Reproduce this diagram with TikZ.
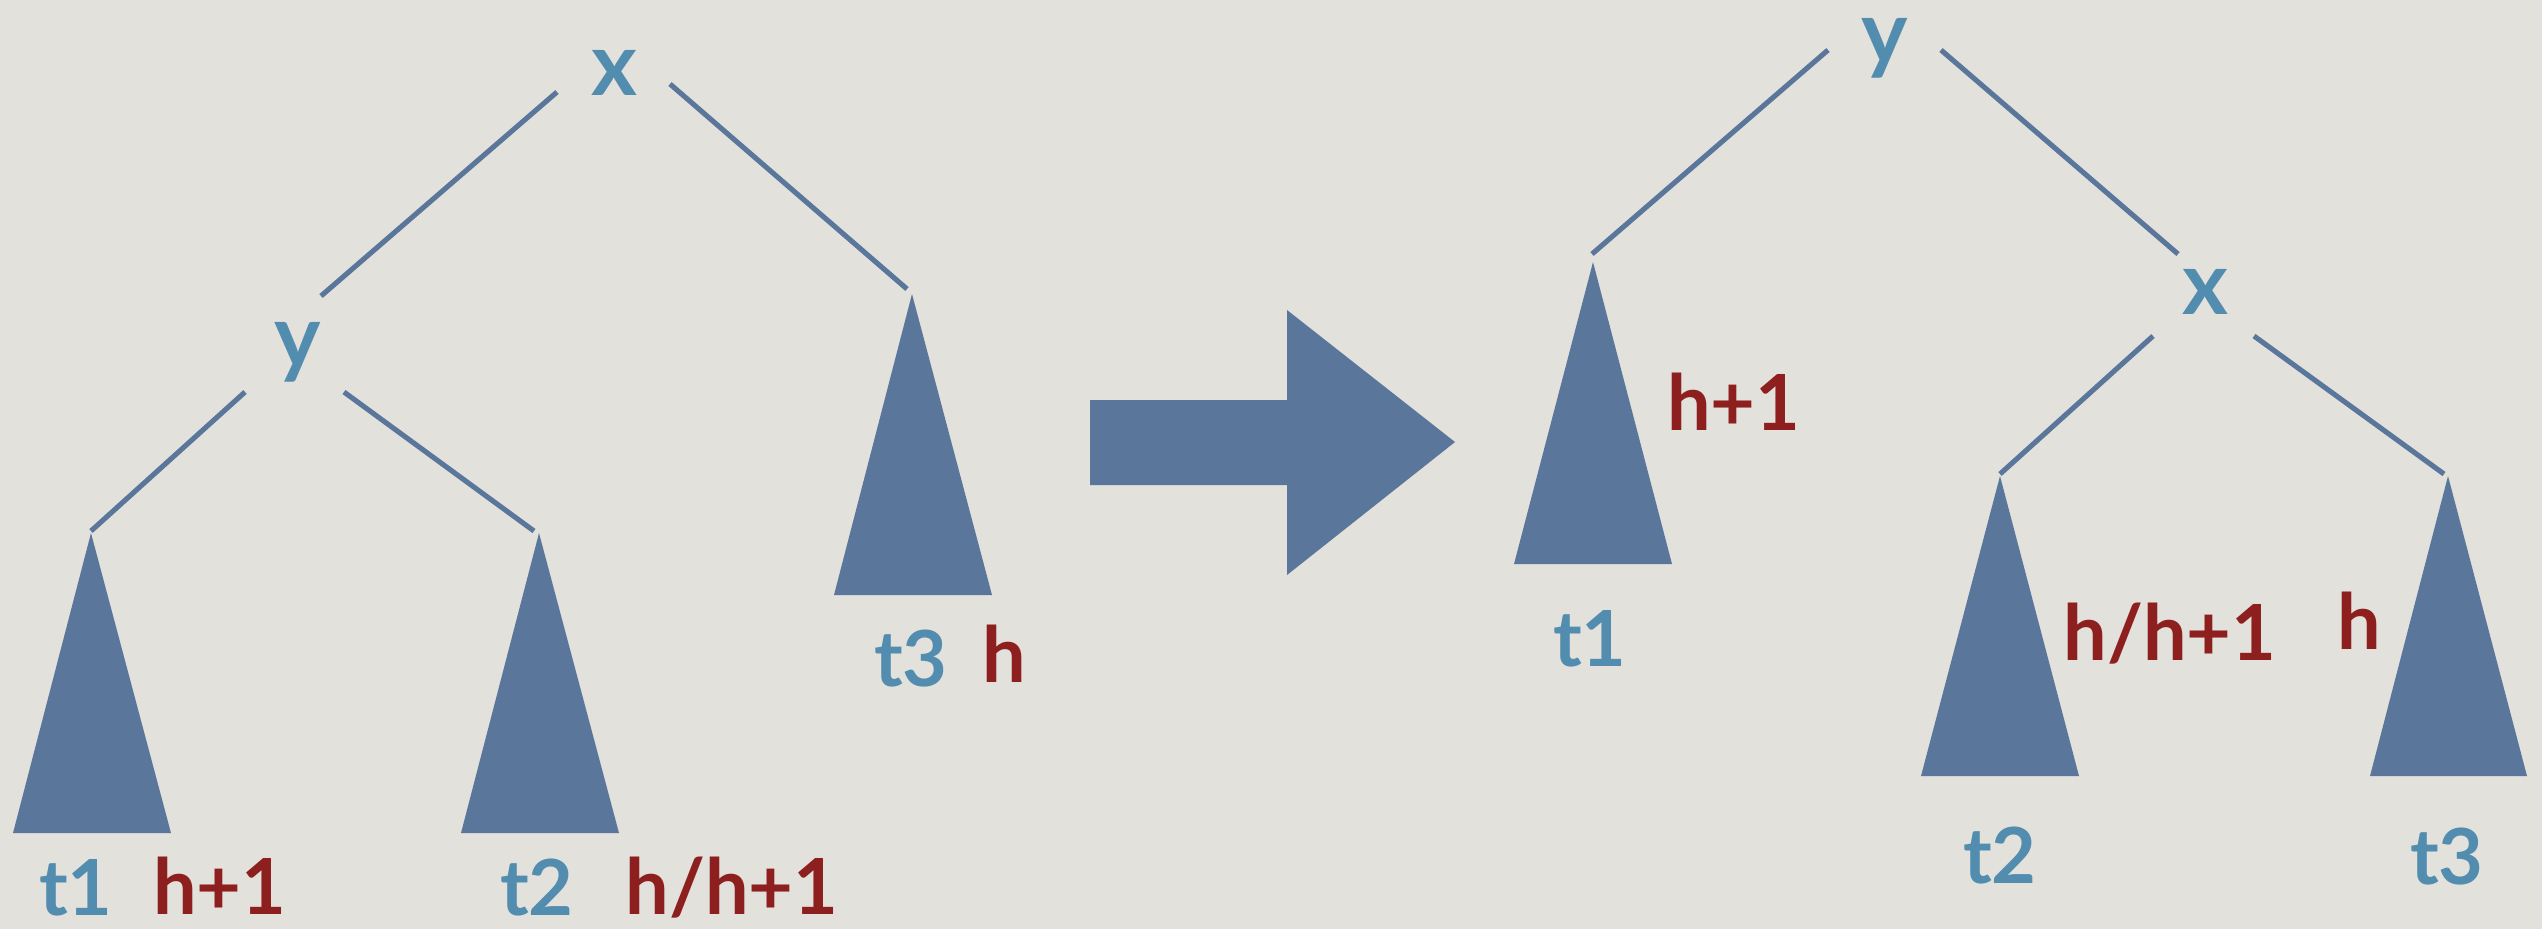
\documentclass[tikz,border=0pt]{standalone}
\usepackage{fontspec}
\setmainfont{Lato}
\definecolor{bgc}{HTML}{E2E1DC}
\definecolor{treec}{HTML}{5B769B}
\definecolor{labc}{HTML}{528CAF}
\definecolor{redc}{HTML}{8E1F1F}
\begin{document}
\begin{tikzpicture}[x=0.01cm,y=-0.01cm,
  edge/.style={draw=treec,line width=1.45pt},
  tri/.style={fill=treec},
  keyl/.style={text=labc,font=\fontsize{25}{25}\selectfont\bfseries,anchor=base,inner sep=0pt},
  tl/.style={text=labc,font=\fontsize{22}{22}\selectfont\bfseries,anchor=base,inner sep=0pt},
  hl/.style={text=redc,font=\fontsize{22}{22}\selectfont\bfseries,anchor=base,inner sep=0pt}]
\fill[bgc] (0,0) rectangle (2542,929);
\useasboundingbox (0,0) rectangle (2542,929);
% ---------- left tree ----------
\node[keyl] (Lx) at (614,95) {x};
\node[keyl] (Ly) at (298,367) {y};
\coordinate (Lxa) at (557,92);  \coordinate (Lxb) at (321,296);
\coordinate (Lxc) at (670,84);  \coordinate (Lxd) at (907,289);
\coordinate (Lya) at (245,392); \coordinate (Lyb) at (91,531);
\coordinate (Lyc) at (344,392); \coordinate (Lyd) at (534,531);
\draw[edge] (Lxa) -- (Lxb);
\draw[edge] (Lxc) -- (Lxd);
\draw[edge] (Lya) -- (Lyb);
\draw[edge] (Lyc) -- (Lyd);
\fill[tri] (91,533) -- (13,833) -- (171,833) -- cycle;
\fill[tri] (539,533) -- (461,833) -- (619,833) -- cycle;
\fill[tri] (912,294) -- (834,595) -- (992,595) -- cycle;
\node[tl] (Lt1) at (76,915) {t1};
\node[hl] (Lh1) at (220,914) {h+1};
\node[tl] (Lt2) at (537,915) {t2};
\node[hl] (Lh2) at (732,914) {h/h+1};
\node[tl] (Lt3) at (911,686) {t3};
\node[hl] (Lh3) at (1004,682) {h};
% ---------- arrow ----------
\fill[tri] (1090,400) -- (1287,400) -- (1287,310) -- (1455,442) -- (1287,575) -- (1287,485) -- (1090,485) -- cycle;
% ---------- right tree ----------
\node[keyl] (Ry) at (1885,63) {y};
\node[keyl] (Rx) at (2205,314) {x};
\coordinate (Rya) at (1828,50);  \coordinate (Ryb) at (1592,254);
\coordinate (Ryc) at (1941,50);  \coordinate (Ryd) at (2178,254);
\coordinate (Rxa) at (2153,336); \coordinate (Rxb) at (2000,474);
\coordinate (Rxc) at (2254,336); \coordinate (Rxd) at (2444,474);
\draw[edge] (Rya) -- (Ryb);
\draw[edge] (Ryc) -- (Ryd);
\draw[edge] (Rxa) -- (Rxb);
\draw[edge] (Rxc) -- (Rxd);
\fill[tri] (1593,262) -- (1514,564) -- (1672,564) -- cycle;
\fill[tri] (2000,476) -- (1921,776) -- (2079,776) -- cycle;
\fill[tri] (2448,476) -- (2370,776) -- (2527,776) -- cycle;
\node[hl] (Rh1) at (1734,430) {h+1};
\node[tl] (Rt1) at (1590,666) {t1};
\node[hl] (Rh2) at (2170,660) {h/h+1};
\node[hl] (Rh3) at (2359,649) {h};
\node[tl] (Rt2) at (2000,883) {t2};
\node[tl] (Rt3) at (2447,884) {t3};
\end{tikzpicture}
\end{document}
